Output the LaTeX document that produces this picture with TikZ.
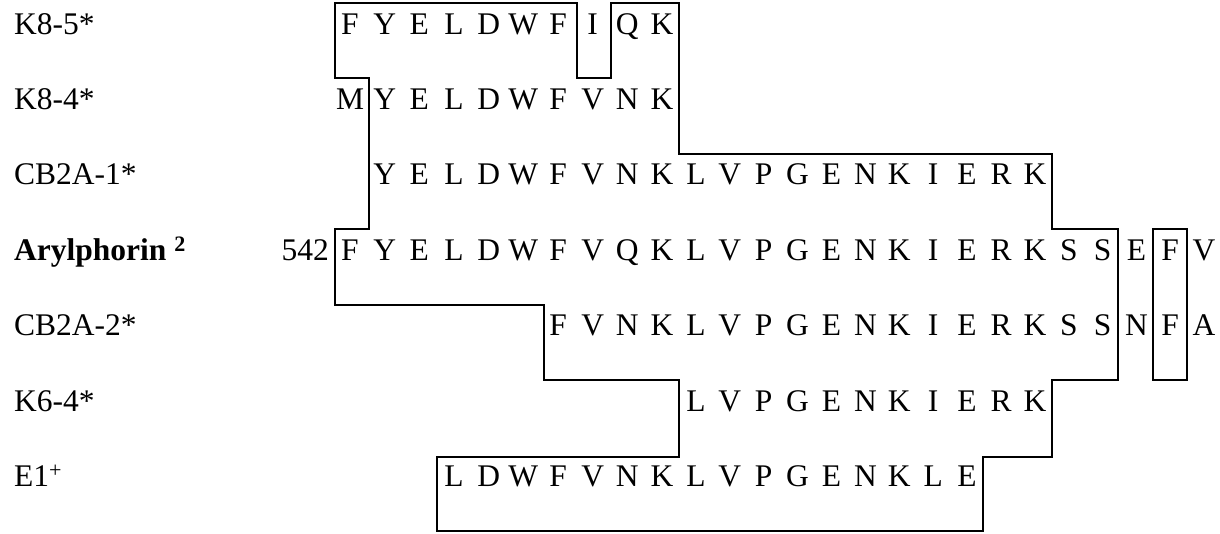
\documentclass[tikz,border=0pt]{standalone}
\usepackage{fontspec}
\setmainfont{Liberation Serif}
\begin{document}
\begin{tikzpicture}[x=1pt,y=-1pt,
  seq/.style={anchor=base,inner sep=0pt,font=\fontsize{31.5}{38}\selectfont},
  lab/.style={anchor=base west,inner sep=0pt,font=\fontsize{31.5}{38}\selectfont},
  outline/.style={draw=black,line width=2pt,line join=miter},
  declare function={
    cx(\c)=ifthenelse(\c<=9,350+34.67*\c,ifthenelse(\c<=20,662+33.9*(\c-9),1035+33.8*(\c-20)));
    by(\r)=34+75.4*\r;
  }]
\useasboundingbox (0,0) rectangle (1220,533);

% one aligned residue row: #1 row index, #2 first column, #3 residues
\newcommand\seqrow[3]{%
  \foreach \ch [count=\i from 0] in {#3} {%
    \pgfmathsetmacro\xx{cx(#2+\i)}%
    \pgfmathsetmacro\yy{by(#1)}%
    \node[seq] (r#1c\i) at (\xx,\yy) {\ch};
  }}

% peptide / protein labels
\node[lab] (l0) at (14,{by(0)}) {K8-5*};
\node[lab] (l1) at (14,{by(1)}) {K8-4*};
\node[lab] (l2) at (14,{by(2)}) {CB2A-1*};
\node[lab] (l3) at (14,{by(3)}) {\textbf{Arylphorin \textsuperscript{2}}};
\node[lab] (l4) at (14,{by(4)}) {CB2A-2*};
\node[lab] (l5) at (14,{by(5)}) {K6-4*};
\node[lab] (l6) at (14,{by(6)}) {E1\textsuperscript{+}};
\node[seq,anchor=base east] (n542) at (329,{by(3)}) {542};

% sequences
\seqrow{0}{0}{F,Y,E,L,D,W,F,I,Q,K}
\seqrow{1}{0}{M,Y,E,L,D,W,F,V,N,K}
\seqrow{2}{1}{Y,E,L,D,W,F,V,N,K,L,V,P,G,E,N,K,I,E,R,K}
\seqrow{3}{0}{F,Y,E,L,D,W,F,V,Q,K,L,V,P,G,E,N,K,I,E,R,K,S,S,E,F,V}
\seqrow{4}{6}{F,V,N,K,L,V,P,G,E,N,K,I,E,R,K,S,S,N,F,A}
\seqrow{5}{10}{L,V,P,G,E,N,K,I,E,R,K}
\seqrow{6}{3}{L,D,W,F,V,N,K,L,V,P,G,E,N,K,L,E}

% outline of the conserved region
\draw[outline] (335,3) -- (577,3) -- (577,78) -- (611,78) -- (611,3) -- (679,3)
  -- (679,154) -- (1052,154) -- (1052,229) -- (1118,229) -- (1118,380)
  -- (1052,380) -- (1052,457) -- (983,457) -- (983,531) -- (437,531)
  -- (437,457) -- (679,457) -- (679,380) -- (544,380) -- (544,305)
  -- (335,305) -- (335,229) -- (369,229) -- (369,78) -- (335,78) -- cycle;

% conserved F
\draw[outline] (1153,229) rectangle (1187,380);
\end{tikzpicture}
\end{document}
